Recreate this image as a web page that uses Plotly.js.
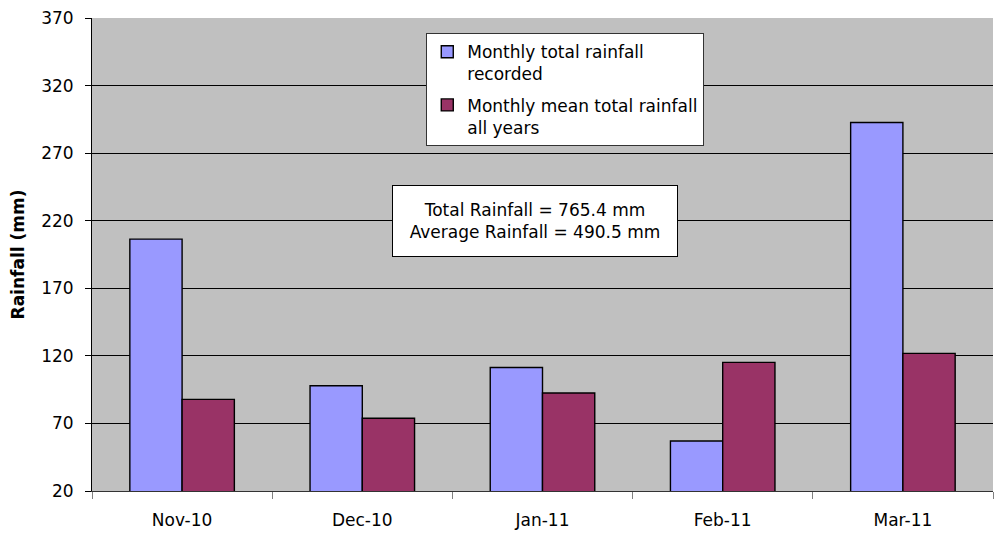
<!DOCTYPE html>
<html>
<head>
<meta charset="utf-8">
<script src="https://cdn.plot.ly/plotly-3.0.1.min.js"></script>
<style>html,body{margin:0;padding:0;background:#fff;}#chart{width:994px;height:536px;}</style>
</head>
<body>
<div id="chart"></div>
<script>
const months = ["Nov-10", "Dec-10", "Jan-11", "Feb-11", "Mar-11"];
const recorded = [206.4, 97.9, 111.4, 57.0, 292.7];
const meanAllYears = [87.8, 73.8, 92.5, 115.2, 121.8];
const seriesNames = ["Monthly total rainfall<br>recorded", "Monthly mean total rainfall<br>all years"];
const yTicks = [20, 70, 120, 170, 220, 270, 320, 370];
const noteText = "Total Rainfall = 765.4 mm<br>Average Rainfall = 490.5 mm";

const FONT = "'DejaVu Sans', Arial, sans-serif";
const FS = 17;

const traces = [
  {type: "bar", x: months, y: recorded, name: seriesNames[0], legendgroup: "a",
   marker: {color: "#9999FF", line: {color: "#000000", width: 1.4}}},
  {type: "bar", x: months, y: meanAllYears, name: seriesNames[1], legendgroup: "b",
   marker: {color: "#993366", line: {color: "#000000", width: 1.4}}}
];

const layout = {
  width: 994, height: 536,
  margin: {l: 92, r: 1, t: 18, b: 45},
  paper_bgcolor: "#ffffff",
  plot_bgcolor: "#C0C0C0",
  font: {family: FONT, size: FS, color: "#000"},
  barmode: "group",
  bargap: 0.42,
  bargroupgap: 0,
  showlegend: true,
  legend: {
    x: 0.371, y: 0.968, xanchor: "left", yanchor: "top",
    bgcolor: "#ffffff", bordercolor: "#333333", borderwidth: 1,
    font: {family: FONT, size: FS, color: "#000"},
    valign: "top", traceorder: "grouped", tracegroupgap: 6, itemwidth: 30
  },
  xaxis: {
    type: "category",
    showgrid: false,
    showline: true, linecolor: "#333333", linewidth: 1,
    ticks: "outside", tickson: "boundaries", ticklen: 7, tickcolor: "#808080",
    tickfont: {family: FONT, size: FS, color: "#000"},
    ticklabelstandoff: 14,
    zeroline: false
  },
  yaxis: {
    range: [20, 370],
    tickvals: yTicks,
    ticktext: yTicks.map(String),
    showgrid: true, gridcolor: "#000000", gridwidth: 1,
    showline: true, linecolor: "#000000", linewidth: 1,
    ticks: "outside", ticklen: 6, tickcolor: "#000000",
    tickfont: {family: FONT, size: FS, color: "#000"},
    ticklabelstandoff: 8,
    zeroline: false,
    title: {text: "<b>Rainfall (mm)</b>", font: {family: FONT, size: FS, color: "#000"}, standoff: 12}
  },
  annotations: [{
    xref: "paper", yref: "paper", x: 0.4917, y: 0.571,
    xanchor: "center", yanchor: "middle",
    text: noteText, showarrow: false, align: "center",
    font: {family: FONT, size: FS, color: "#000"},
    bgcolor: "#ffffff", bordercolor: "#000000", borderwidth: 1, borderpad: 1,
    width: 282, height: 68
  }]
};

Plotly.newPlot("chart", traces, layout, {displayModeBar: false, staticPlot: true});
</script>
</body>
</html>
